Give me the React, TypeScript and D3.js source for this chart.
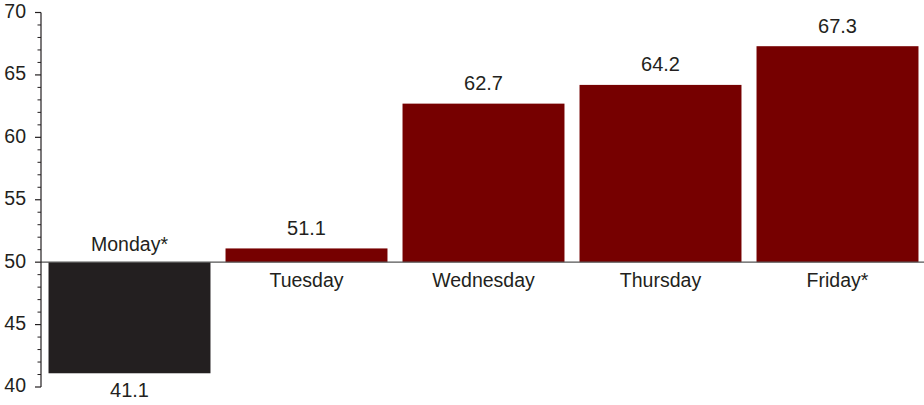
import React from "react";
import * as d3 from "d3";

const days = ["Monday*", "Tuesday", "Wednesday", "Thursday", "Friday*"];
const scores = [41.1, 51.1, 62.7, 64.2, 67.3];
const majorTicks = [40, 45, 50, 55, 60, 65, 70];
const baselineValue = 50;

const W = 924;
const H = 405;
const FONT = "'Liberation Sans', Arial, Helvetica, sans-serif";

export default function App() {
  const x = d3
    .scaleBand<string>()
    .domain(days)
    .range([41, 926])
    .paddingInner(0.085)
    .paddingOuter(0.0425);
  const y = d3.scaleLinear().domain([40, 70]).range([387, 12.5]);
  const minorTicks = d3.range(40, 71, 1).filter((v) => v % 5 !== 0);
  const y0 = y(baselineValue);

  return (
    <svg
      width={W}
      height={H}
      style={{ position: "absolute", left: 0, top: 0, background: "#fff" }}
      fontFamily={FONT}
    >
      {days.map((d, i) => {
        const v = scores[i];
        const above = v >= baselineValue;
        const bx = x(d)!;
        const bw = x.bandwidth();
        const top = above ? y(v) : y0;
        const bottom = above ? y0 : y(v);
        const cx = bx + bw / 2;
        return (
          <g key={d}>
            <rect
              x={bx}
              y={top}
              width={bw}
              height={bottom - top}
              fill={above ? "#760000" : "#231f20"}
            />
            <text
              x={cx}
              y={above ? y(v) - 13.5 : y(v) + 23.5}
              textAnchor="middle"
              fontSize={20}
              fill="#231f20"
            >
              {v.toFixed(1)}
            </text>
            <text
              x={cx}
              y={above ? y0 + 24.5 : y0 - 11}
              textAnchor="middle"
              fontSize={19.5}
              fill="#231f20"
            >
              {d}
            </text>
          </g>
        );
      })}
      <line x1={41} x2={W} y1={y0} y2={y0} stroke="#555" strokeWidth={1.2} />
      <line x1={41} x2={41} y1={y(70)} y2={y(40)} stroke="#231f20" strokeWidth={1.2} />
      {majorTicks.map((t) => (
        <g key={t}>
          <line x1={35} x2={41} y1={y(t)} y2={y(t)} stroke="#231f20" strokeWidth={1.2} />
          <text
            x={26}
            y={y(t) + 5.4}
            textAnchor="end"
            fontSize={19.5}
            fill="#231f20"
          >
            {t}
          </text>
        </g>
      ))}
      {minorTicks.map((t) => (
        <line key={t} x1={37.5} x2={41} y1={y(t)} y2={y(t)} stroke="#231f20" strokeWidth={1} />
      ))}
    </svg>
  );
}
